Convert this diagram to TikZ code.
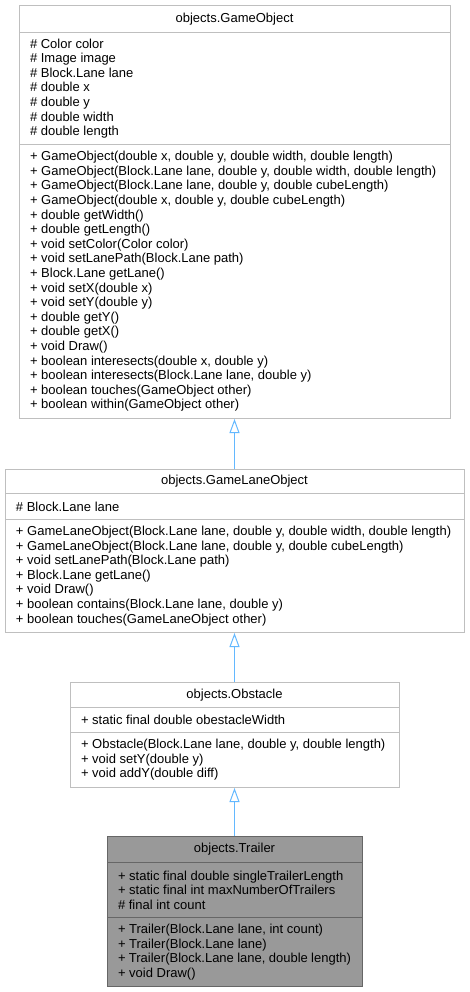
\documentclass[tikz,border=0pt]{standalone}
\usepackage{fontspec}
\setmainfont{Liberation Sans}
\usetikzlibrary{arrows.meta}

\definecolor{grey75}{HTML}{BFBFBF}
\definecolor{grey60}{HTML}{999999}
\definecolor{grey40}{HTML}{666666}
\definecolor{steelblue1}{HTML}{63B8FF}

\begin{document}
\begin{tikzpicture}[x=1pt, y=1pt,
        every node/.style={font=\fontsize{13}{14.6}\selectfont},
        box/.style={draw=grey75, fill=white, line width=1pt, inner sep=0pt, anchor=north},
        members/.style={box, align=left, inner xsep=11pt, execute at begin node={\spaceskip=0pt\xspaceskip=0pt}},
        focus/.style={draw=grey40, fill=grey60},
        inherit/.style={draw=steelblue1, line width=1pt, -{Triangle[open, length=14pt, width=10pt]}}]
        \useasboundingbox (0,0) rectangle (469,-992);

        % objects.GameObject
        \node[box, minimum width=431pt, minimum height=27pt] (gobj) at (234.5,-5) {objects.GameObject};
        \node[members, text width=409pt, minimum height=112pt] (gobj_attr) at (234.5,-32) {\# Color color\\ \# Image image\\ \# Block.Lane lane\\ \# double x\\ \# double y\\ \# double width\\ \# double length};
        \node[members, text width=409pt, minimum height=274pt] (gobj_ops) at (234.5,-144) {+ GameObject(double x, double y, double width, double length)\\ + GameObject(Block.Lane lane, double y, double width, double length)\\ + GameObject(Block.Lane lane, double y, double cubeLength)\\ + GameObject(double x, double y, double cubeLength)\\ + double getWidth()\\ + double getLength()\\ + void setColor(Color color)\\ + void setLanePath(Block.Lane path)\\ + Block.Lane getLane()\\ + void setX(double x)\\ + void setY(double y)\\ + double getY()\\ + double getX()\\ + void Draw()\\ + boolean interesects(double x, double y)\\ + boolean interesects(Block.Lane lane, double y)\\ + boolean touches(GameObject other)\\ + boolean within(GameObject other)};

        % objects.GameLaneObject
        \node[box, minimum width=459pt, minimum height=24pt] (glo) at (234.5,-469) {objects.GameLaneObject};
        \node[members, text width=437pt, minimum height=26pt] (glo_attr) at (234.5,-493) {\# Block.Lane lane};
        \node[members, text width=437pt, minimum height=113pt] (glo_ops) at (234.5,-519) {+ GameLaneObject(Block.Lane lane, double y, double width, double length)\\ + GameLaneObject(Block.Lane lane, double y, double cubeLength)\\ + void setLanePath(Block.Lane path)\\ + Block.Lane getLane()\\ + void Draw()\\ + boolean contains(Block.Lane lane, double y)\\ + boolean touches(GameLaneObject other)};

        % objects.Obstacle
        \node[box, minimum width=329pt, minimum height=25pt] (obs) at (234.5,-682) {objects.Obstacle};
        \node[members, text width=307pt, minimum height=25pt] (obs_attr) at (234.5,-707) {+ static final double obestacleWidth};
        \node[members, text width=307pt, minimum height=55pt] (obs_ops) at (234.5,-732) {+ Obstacle(Block.Lane lane, double y, double length)\\ + void setY(double y)\\ + void addY(double diff)};

        % objects.Trailer
        \node[box, focus, minimum width=255pt, minimum height=26pt] (trl) at (234.5,-836) {objects.Trailer};
        \node[members, focus, text width=233pt, minimum height=55pt] (trl_attr) at (234.5,-862) {+ static final double singleTrailerLength\\ + static final int maxNumberOfTrailers\\ \# final int count};
        \node[members, focus, text width=233pt, minimum height=69pt] (trl_ops) at (234.5,-917) {+ Trailer(Block.Lane lane, int count)\\ + Trailer(Block.Lane lane)\\ + Trailer(Block.Lane lane, double length)\\ + void Draw()};

        \draw[inherit] (glo) -- (gobj_ops);
        \draw[inherit] (obs) -- (glo_ops);
        \draw[inherit] (trl) -- (obs_ops);
\end{tikzpicture}
\end{document}
